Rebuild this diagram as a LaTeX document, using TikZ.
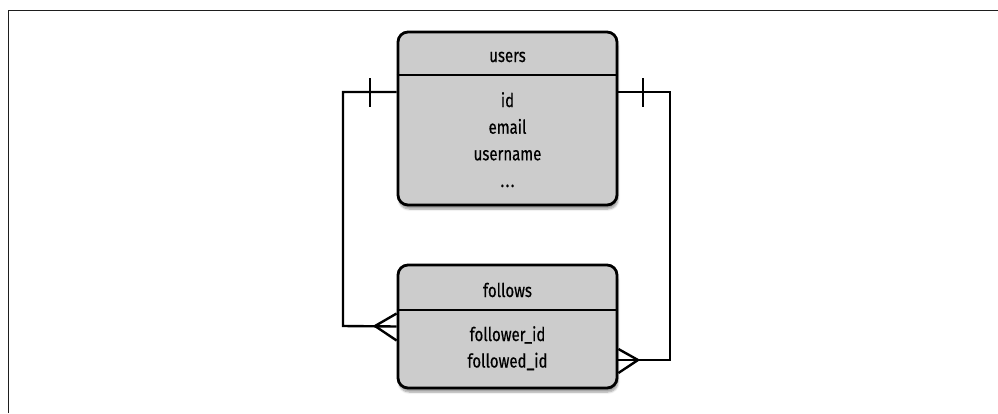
\documentclass[tikz,border=0pt]{standalone}
\usepackage{fontspec}
\setmainfont[FakeStretch=0.79, FakeBold=0.5]{Fira Sans}
\usetikzlibrary{shadows.blur}
\definecolor{boxfill}{RGB}{204,204,204}
\definecolor{framecol}{RGB}{30,30,30}
\tikzset{
  entity/.style={draw=black, line width=2.8pt, rounded corners=10pt, fill=boxfill,
    blur shadow={shadow xshift=1pt, shadow yshift=-4pt, shadow blur steps=6, shadow opacity=40},
    inner sep=0pt},
  sepline/.style={line width=2.5pt, black},
  conn/.style={line width=2.4pt, black},
  txt/.style={font=\fontsize{19}{26.5}\selectfont, anchor=base, inner sep=0pt, text=black}
}
\begin{document}
\begin{tikzpicture}[x=1pt,y=-1pt]
\useasboundingbox (0,0) rectangle (998,413);
% frame
\draw[framecol, line width=1pt] (8,413) -- (8,10) -- (998,10);
% users entity
\node[entity, minimum width=219pt, minimum height=173pt] (users) at (507.5,118.5) {};
\draw[sepline] (users.west |- 0,75) coordinate (us1) -- (users.east |- 0,75) coordinate (us2);
\node[txt] (usersT) at (507.5,62) {users};
\node[txt] (uid) at (507.5,107) {id};
\node[txt] (uemail) at (507.5,133.7) {email};
\node[txt] (uname) at (507.5,160.3) {username};
\node[txt] (udots) at (507.5,187) {.\kern1.5pt.\kern1.5pt.};
% follows entity
\node[entity, minimum width=219pt, minimum height=123pt] (follows) at (507.5,326.5) {};
\draw[sepline] (follows.west |- 0,310) coordinate (fs1) -- (follows.east |- 0,310) coordinate (fs2);
\node[txt] (followsT) at (507.5,297) {follows};
\node[txt] (ffer) at (507.5,341) {follower\_id};
\node[txt] (fed) at (507.5,367.5) {followed\_id};
% connector coordinates
\coordinate (uL) at ([yshift=26.5pt]users.west);
\coordinate (uR) at ([yshift=26.5pt]users.east);
\coordinate (fL) at (follows.west);
\coordinate (fR) at ([yshift=-33.5pt]follows.east);
\coordinate (cL1) at (343,92);
\coordinate (cL2) at (343,326);
\coordinate (cR1) at (670,92);
\coordinate (cR2) at (670,360);
\coordinate (apexL) at (375,326);
\coordinate (apexR) at (638,360);
% left relationship
\draw[conn] (uL) -- (cL1) -- (cL2) -- (fL);
\draw[conn] (370,78) coordinate (tL1) -- (370,107) coordinate (tL2);
\draw[conn] ([yshift=13pt]fL) -- (apexL) -- ([yshift=-14pt]fL);
% right relationship
\draw[conn] (uR) -- (cR1) -- (cR2) -- (fR);
\draw[conn] (643,78) coordinate (tR1) -- (643,107) coordinate (tR2);
\draw[conn] ([yshift=11pt]fR) -- (apexR) -- ([yshift=-13pt]fR);
\end{tikzpicture}
\end{document}
